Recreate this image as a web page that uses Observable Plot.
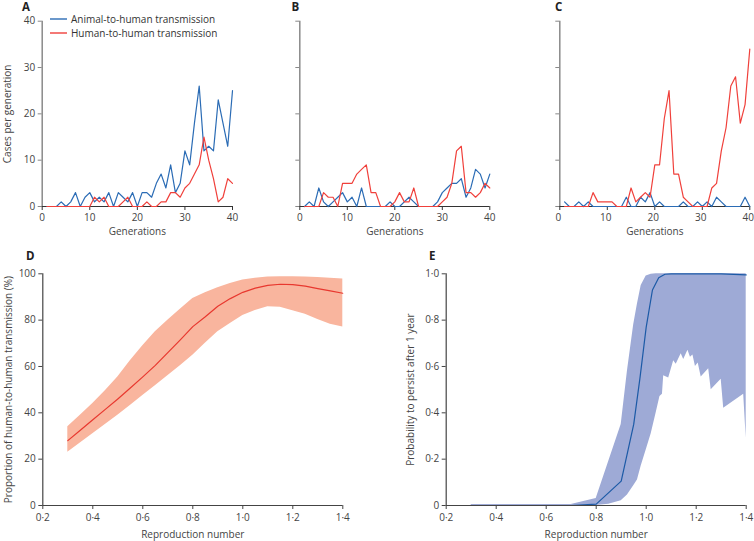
<!DOCTYPE html>
<html><head><meta charset="utf-8">
<script src="https://cdn.jsdelivr.net/npm/d3@7"></script>
<script src="https://cdn.jsdelivr.net/npm/@observablehq/plot@0.6"></script>
<style>
body{margin:0;background:#fff;}
#wrap{position:relative;width:754px;height:541px;font-family:"Open Sans",sans-serif;color:#333;overflow:hidden;}
.panel{position:absolute;}
.letter{position:absolute;font-weight:bold;font-size:11.5px;line-height:13px;color:#222;}
.leg{position:absolute;font-size:10px;line-height:12px;color:#333;white-space:nowrap;}
.leg svg{display:inline-block;vertical-align:middle;margin-right:4px;position:relative;top:-1px;}
</style></head>
<body><div id="wrap"></div>
<script>
// ---------- data ----------
const generations = [1,2,3,4,5,6,7,8,9,10,11,12,13,14,15,16,17,18,19,20,21,22,23,24,25,26,27,28,29,30,31,32,33,34,35,36,37,38,39,40];
const seriesNames = ["Animal-to-human transmission", "Human-to-human transmission"];
const genTicks = [0,10,20,30,40];
const casesTicks = [0,10,20,30,40];

const aAnimal = [0,0,0,1,0,1,3,0,2,3, 1,2,1,3,0,3,2,1,3,0, 3,3,2,5,7,4,9,3,5,12, 9,18,26,12,13,12,23,18,13,25];
const aHuman  = [0,0,0,0,0,0,0,0,0,0, 2,1,2,0,0,0,1,2,0,0, 0,1,0,0,1,1,3,3,2,4, 5,7,9,15,10,6,1,2,6,5];
const bAnimal = [0,1,0,4,1,0,1,2,3,1, 2,0,4,0,0,0,0,0,1,0, 0,1,2,1,0,0,0,0,1,3, 4,5,5,6,2,4,8,7,4,7];
const bHuman  = [0,0,0,0,3,2,2,0,5,5, 5,7,8,9,3,3,0,0,0,1, 3,1,1,4,0,0,0,0,0,1, 2,5,12,13,3,3,2,3,5,4];
const cAnimal = [1,0,0,1,0,1,0,0,0,0, 0,0,0,2,0,0,2,1,3,0, 1,0,0,0,0,1,0,0,1,0, 1,0,2,1,0,0,0,0,2,0];
const cHuman  = [0,0,0,0,0,0,3,1,1,1, 1,0,0,0,4,1,2,3,2,9, 9,19,25,7,7,2,1,0,0,0, 0,4,5,12,17,26,28,18,22,34];

const rTicks = [0.2,0.4,0.6,0.8,1.0,1.2,1.4];
const pctTicks = [0,20,40,60,80,100];
const probTicks = [0,0.2,0.4,0.6,0.8,1.0];

// Panel D: proportion of human-to-human transmission (%)
const dR    = [0.3,0.35,0.4,0.45,0.5,0.55,0.6,0.65,0.7,0.75,0.8,0.85,0.9,0.95,1.0,1.05,1.1,1.15,1.2,1.25,1.3,1.35,1.4];
const dMean = [28,32.5,37,41.5,46,50.7,55.5,60.5,66,71.5,77.2,81.5,86,89.3,92,93.8,95,95.5,95.3,94.7,93.6,92.6,91.6];
const dLow  = [23,27,31,35,39,43.2,47.5,51.7,56,60.3,64.8,70,75,78.5,82,84.2,85.8,85.6,84,82.5,80.3,78.2,77];
const dHigh = [34,39,44,49.5,55.5,62.5,69,75,80,84.7,89.3,91.8,94,95.8,97.3,98.1,98.6,98.7,98.7,98.6,98.4,98.1,97.8];

// Panel E: probability to persist after 1 year
const eLineR = [0.3,0.4,0.5,0.6,0.7,0.8,0.9,0.95,0.975,1.0,1.025,1.05,1.075,1.1,1.2,1.3,1.4];
const eLineP = [0,0,0,0,0,0.006,0.105,0.35,0.55,0.77,0.93,0.983,0.998,1.0,1.0,1.0,0.995];
const eBandR = [0.3,0.7,0.8,0.85,0.9,0.925,0.95,0.965,0.98,1.0,1.02,1.04,1.055,1.065,1.07,1.09,1.11,1.12,1.14,1.15,1.167,1.177,1.187,1.197,1.208,1.22,1.25,1.26,1.3,1.31,1.39,1.4];
const eHigh  = [0.004,0.004,0.03,0.19,0.35,0.58,0.78,0.87,0.95,0.99,0.998,1,1,1,1,1,1,1,1,1,1,1,1,1,1,1,1,1,1,1,1,1];
const eLow   = [0,0,0,0.005,0.02,0.045,0.085,0.11,0.17,0.24,0.31,0.40,0.47,0.48,0.56,0.55,0.625,0.61,0.655,0.63,0.67,0.64,0.65,0.6,0.615,0.555,0.59,0.5,0.545,0.42,0.48,0.29];

// ---------- styles ----------
const BLUE = "#2b6cb5", RED = "#f0403b";
const D_FILL = "#f9b59e", D_LINE = "#e8382f";
const E_FILL = "#9eaad6", E_LINE = "#1c5aa6";
const dot = d => d.toFixed(1).replace(".", "\u00b7");
const baseStyle = {fontFamily: "'Open Sans', sans-serif", fontSize: "10px", color: "#333", background: "transparent", overflow: "visible"};

const wrap = document.getElementById("wrap");
function place(node, left, top) {
  node.classList.add("panel");
  node.style.left = left + "px";
  node.style.top = top + "px";
  wrap.appendChild(node);
}
function addDiv(cls, html, left, top) {
  const d = document.createElement("div");
  d.className = cls; d.innerHTML = html;
  d.style.left = left + "px"; d.style.top = top + "px";
  wrap.appendChild(d);
}

function topPanel(animal, human, o) {
  const rows = [];
  generations.forEach((g, i) => rows.push({g, v: animal[i], s: seriesNames[0]}));
  generations.forEach((g, i) => rows.push({g, v: human[i], s: seriesNames[1]}));
  return Plot.plot({
    width: o.width, height: 240,
    marginLeft: o.ml, marginRight: o.mr, marginTop: 20.7, marginBottom: 34,
    style: baseStyle,
    x: {domain: [0, 40]},
    y: {domain: [0, 40]},
    color: {domain: seriesNames, range: [BLUE, RED]},
    marks: [
      Plot.axisX({ticks: genTicks, tickSize: 4, tickFormat: () => "", stroke: "#333", fill: "#444",
        label: "Generations", labelAnchor: "center", labelArrow: "none", labelOffset: 28}),
      Plot.axisX({ticks: genTicks, tickSize: 0, tickPadding: 7, fill: "#444", label: null, dx: o.dx || 0}),
      Plot.axisY({ticks: casesTicks, tickSize: 4, tickPadding: 3, stroke: "#888", fill: "#444",
        tickFormat: o.showY ? (d => String(d)) : (() => ""),
        label: o.showY ? "Cases per generation" : null, labelAnchor: "center", labelArrow: "none", labelOffset: 38}),
      Plot.ruleX([0], {stroke: "#8a8a8a", strokeWidth: 1.5}),
      Plot.ruleY([0], {stroke: "#333", strokeWidth: 1.2}),
      Plot.lineY(rows, {x: "g", y: "v", z: "s", stroke: "s", strokeWidth: 1.2})
    ]
  });
}

place(topPanel(aAnimal, aHuman, {width: 250, ml: 41.7, mr: 18, showY: true}), 0, 0);
place(topPanel(bAnimal, bHuman, {width: 260, ml: 49.3, mr: 20.7, showY: false}), 250, 0);
place(topPanel(cAnimal, cHuman, {width: 244, ml: 49.3, mr: 4.7, showY: false, dx: -1.5}), 510, 0);

// Panel D
const dRows = dR.map((r, i) => ({r, m: dMean[i], lo: dLow[i], hi: dHigh[i]}));
place(Plot.plot({
  width: 377, height: 296, marginLeft: 42.3, marginRight: 34.7, marginTop: 28.3, marginBottom: 36,
  style: baseStyle,
  x: {domain: [0.2, 1.4]},
  y: {domain: [0, 100]},
  marks: [
    Plot.areaY(dRows, {x: "r", y1: "lo", y2: "hi", fill: D_FILL}),
    Plot.lineY(dRows, {x: "r", y: "m", stroke: D_LINE, strokeWidth: 1.2}),
    Plot.ruleX([0.2], {stroke: "#444", strokeWidth: 1.2}),
    Plot.ruleY([0], {stroke: "#444", strokeWidth: 1.2}),
    Plot.axisX({ticks: rTicks, tickFormat: dot, tickSize: 4, tickPadding: 4, stroke: "#444", fill: "#444",
      label: "Reproduction number", labelAnchor: "center", labelArrow: "none", labelOffset: 32}),
    Plot.axisY({ticks: pctTicks, tickSize: 4, tickPadding: 3, stroke: "#444", fill: "#444",
      label: "Proportion of human-to-human transmission (%)", labelAnchor: "center", labelArrow: "none", labelOffset: 38})
  ]
}), 0, 245);

// Panel E
const eLineRows = eLineR.map((r, i) => ({r, p: eLineP[i]}));
const eBandRows = eBandR.map((r, i) => ({r, lo: eLow[i], hi: eHigh[i]}));
place(Plot.plot({
  width: 377, height: 296, marginLeft: 68.7, marginRight: 8.3, marginTop: 28.3, marginBottom: 36,
  style: baseStyle,
  x: {domain: [0.2, 1.4]},
  y: {domain: [0, 1]},
  marks: [
    Plot.areaY(eBandRows, {x: "r", y1: "lo", y2: "hi", fill: E_FILL}),
    Plot.lineY(eLineRows, {x: "r", y: "p", stroke: E_LINE, strokeWidth: 1.2}),
    Plot.ruleX([0.2], {stroke: "#444", strokeWidth: 1.2}),
    Plot.ruleY([0], {stroke: "#444", strokeWidth: 1.2}),
    Plot.axisX({ticks: rTicks, tickFormat: dot, tickSize: 4, tickPadding: 4, stroke: "#444", fill: "#444",
      label: "Reproduction number", labelAnchor: "center", labelArrow: "none", labelOffset: 32}),
    Plot.axisY({ticks: probTicks, tickFormat: d => d === 0 ? "0" : dot(d), tickSize: 4, tickPadding: 3, stroke: "#444", fill: "#444",
      label: "Probability to persist after 1 year", labelAnchor: "center", labelArrow: "none", labelOffset: 39})
  ]
}), 377, 245);

// Panel letters
addDiv("letter", "A", 22, 0);
addDiv("letter", "B", 291.5, 0);
addDiv("letter", "C", 555, 0);
addDiv("letter", "D", 26, 249);
addDiv("letter", "E", 429, 249);

// Legend (panel A)
const swatch = c => `<svg width="17" height="4"><line x1="0" x2="17" y1="2" y2="2" stroke="${c}" stroke-width="1.4"/></svg>`;
addDiv("leg", swatch(BLUE) + seriesNames[0], 50, 13);
addDiv("leg", swatch(RED) + seriesNames[1], 50, 27);
</script>
</body></html>
